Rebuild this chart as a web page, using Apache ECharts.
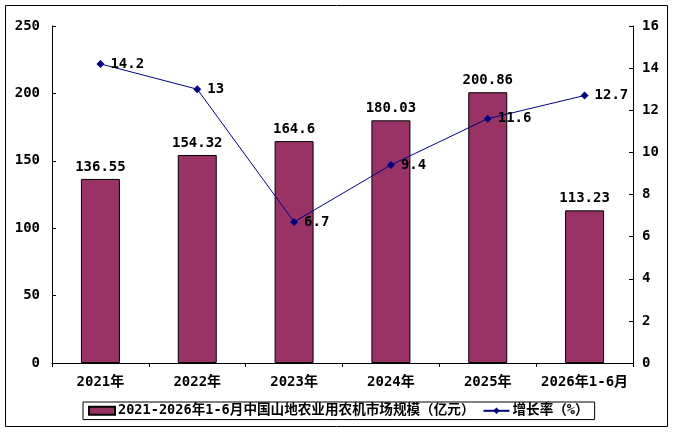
<!DOCTYPE html>
<html>
<head>
<meta charset="utf-8">
<script src="https://cdn.jsdelivr.net/npm/echarts@6/dist/echarts.min.js"></script>
<style>
  html, body { margin: 0; padding: 0; background: #fff; }
  #chart { width: 676px; height: 432px; }
</style>
</head>
<body>
<div id="chart"></div>
<script>
var categories = ['2021年', '2022年', '2023年', '2024年', '2025年', '2026年1-6月'];
var marketSize = [136.55, 154.32, 164.6, 180.03, 200.86, 113.23];
var growthRate = [14.2, 13, 6.7, 9.4, 11.6, 12.7];
var barName = '2021-2026年1-6月中国山地农业用农机市场规模（亿元）';
var lineName = '增长率（%）';

var font = '"DejaVu Sans Mono", "Noto Sans CJK SC", monospace';
var txt = { color: '#000', fontFamily: font, fontWeight: 'bold', fontSize: 14 };

var chart = echarts.init(document.getElementById('chart'));

var option = {
  animation: false,
  textStyle: { fontFamily: font },
  graphic: [{
    type: 'rect',
    shape: { x: 5.5, y: 5.5, width: 662, height: 421 },
    style: { fill: 'none', stroke: '#000', lineWidth: 1 }
  }],
  grid: { left: 52, right: 43, top: 26, bottom: 69 },
  legend: {
    left: 83, top: 402,
    padding: [2, 6, 2, 5],
    itemGap: 8,
    itemWidth: 26, itemHeight: 8,
    borderColor: '#000', borderWidth: 1,
    textStyle: Object.assign({}, txt, { fontSize: 13.6, padding: [0, 0, 0, -2] }),
    data: [
      { name: barName, icon: 'rect' },
      { name: lineName }
    ]
  },
  xAxis: {
    type: 'category',
    data: categories,
    axisLine: { lineStyle: { color: '#000' } },
    axisTick: { show: true, length: 4, lineStyle: { color: '#000' } },
    axisLabel: Object.assign({}, txt, { margin: 12, interval: 0 })
  },
  yAxis: [{
    type: 'value', min: 0, max: 250, interval: 50,
    axisLine: { show: true, lineStyle: { color: '#000' } },
    axisTick: { show: true, inside: true, length: 4, lineStyle: { color: '#000' } },
    splitLine: { show: false },
    axisLabel: Object.assign({}, txt, { margin: 12 })
  }, {
    type: 'value', min: 0, max: 16, interval: 2,
    axisLine: { show: true, lineStyle: { color: '#000' } },
    axisTick: { show: true, inside: true, length: 4, lineStyle: { color: '#000' } },
    splitLine: { show: false },
    axisLabel: Object.assign({}, txt, { margin: 9 })
  }],
  series: [{
    name: barName,
    type: 'bar',
    data: marketSize,
    barWidth: 39,
    itemStyle: { color: '#993366', borderColor: '#000', borderWidth: 1 },
    label: Object.assign({ show: true, position: 'top', distance: 5 }, txt)
  }, {
    name: lineName,
    type: 'line',
    yAxisIndex: 1,
    data: growthRate,
    symbol: 'diamond',
    symbolSize: 8,
    lineStyle: { color: '#000080', width: 1 },
    itemStyle: { color: '#000080' },
    label: Object.assign({ show: true, position: 'right', distance: 6 }, txt)
  }]
};
chart.setOption(option);
</script>
</body>
</html>
